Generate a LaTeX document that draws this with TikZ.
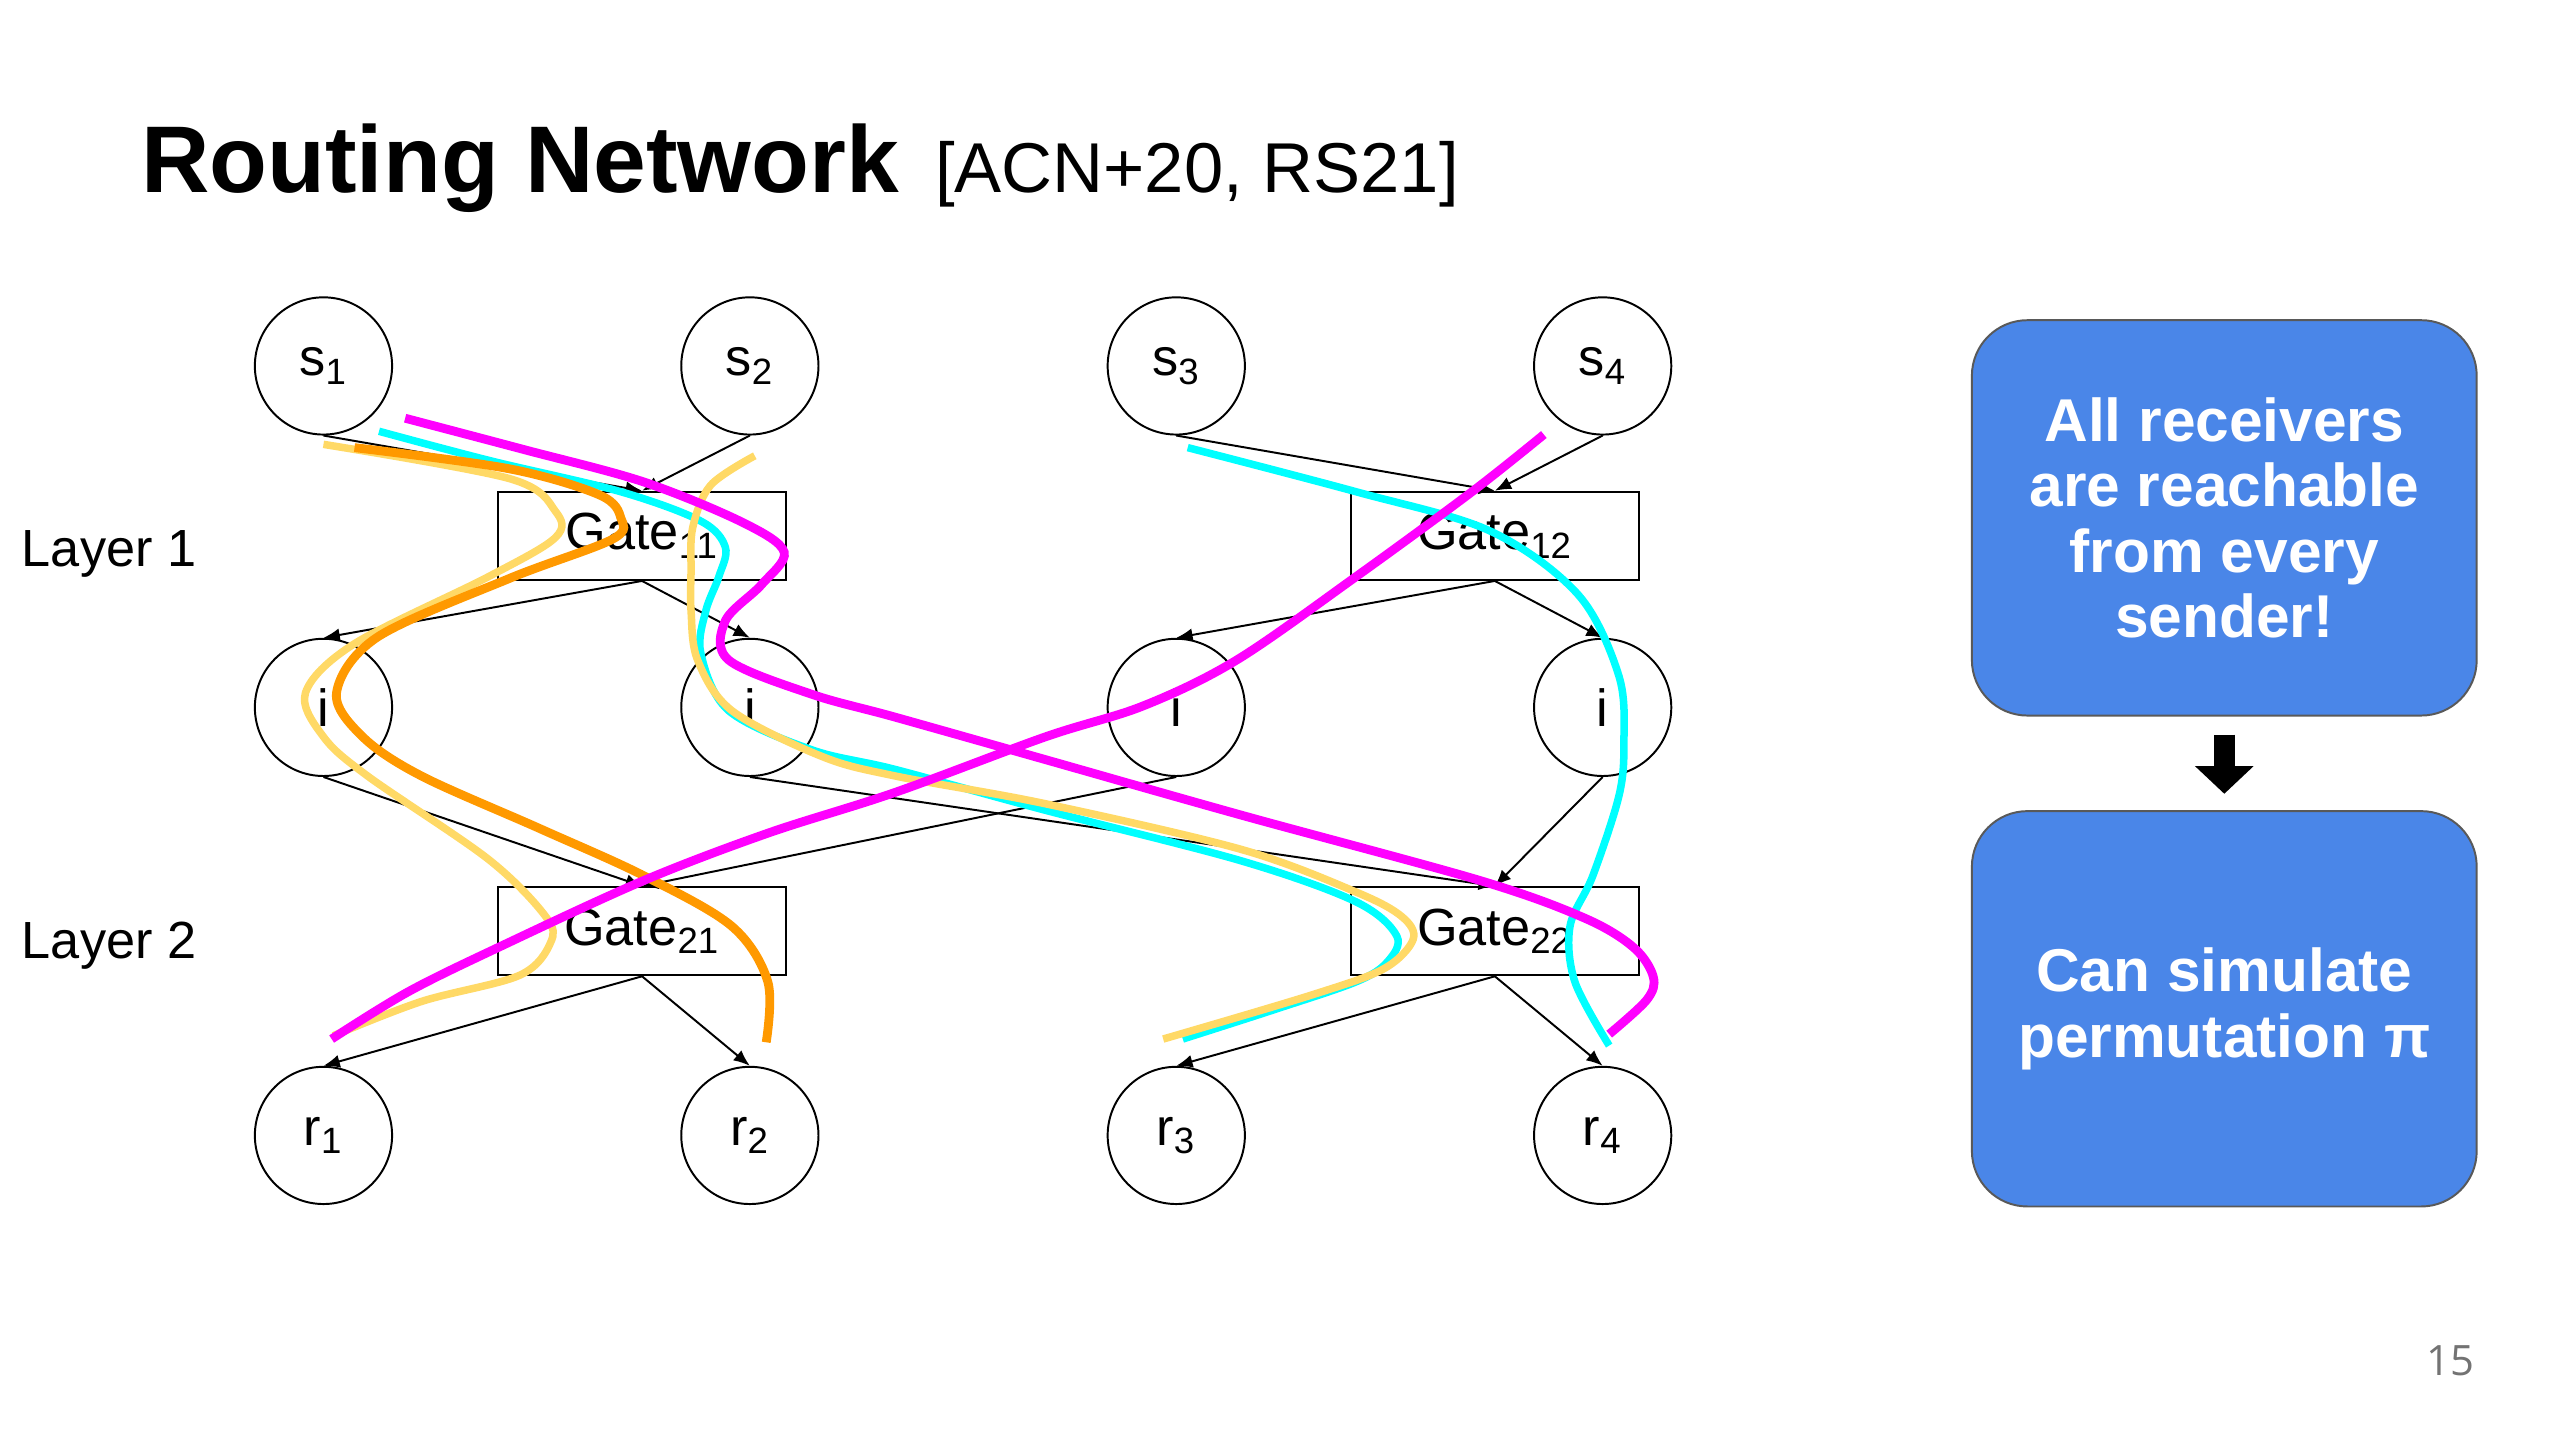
\documentclass[tikz,border=0pt]{standalone}
\usepackage{fontspec}
\setmainfont{Liberation Sans}
\newfontfamily\slidenumfont{Open Sans}
\usetikzlibrary{arrows.meta}

\definecolor{pathmag}{HTML}{FF00FF}
\definecolor{pathcyan}{HTML}{00FFFF}
\definecolor{pathorange}{HTML}{FF9900}
\definecolor{pathyellow}{HTML}{FFD966}
\definecolor{claimblue}{HTML}{4A86E8}

\tikzset{
  party/.style={draw, circle, line width=0.6pt, minimum size=42pt, inner sep=0pt,
    font=\fontsize{16}{19}\selectfont},
  gatebox/.style={draw, rectangle, line width=0.6pt, minimum width=88pt, minimum height=27pt,
    inner sep=0pt, font=\fontsize{16}{19}\selectfont},
  wire/.style={-{Latex[length=5pt,width=4pt]}, line width=0.6pt},
  route/.style={line width=2.3pt},
  claim/.style={draw=black!65, line width=0.6pt, fill=claimblue, rounded corners=17pt,
    minimum width=154.5pt, minimum height=121pt, align=center, text=white,
    font=\fontsize{18.5}{20}\selectfont\bfseries},
  blockarrow/.style={-{Triangle[length=8.5pt,width=17.5pt]}, line width=6.5pt,
    shorten <=5.5pt, shorten >=5pt}
}

\begin{document}
\begin{tikzpicture}[x=0.5pt,y=-0.5pt]
\useasboundingbox (0,0) rectangle (1567,881.4);

% heading
\node[anchor=base west, inner sep=0pt, font=\fontsize{29}{34}\selectfont\bfseries] (title) at (86,118) {Routing Network};
\node[anchor=base west, inner sep=0pt, font=\fontsize{21.6}{26}\selectfont] (cite) at (572,118) {[ACN+20, RS21]};
\node[anchor=base west, inner sep=0pt, font=\fontsize{16}{19}\selectfont] (lay1) at (13,347) {Layer 1};
\node[anchor=base west, inner sep=0pt, font=\fontsize{16}{19}\selectfont] (lay2) at (13,587) {Layer 2};

% senders, middle wires, receivers
\foreach \k/\x in {1/198,2/459,3/720,4/981} {
  \node[party] (s\k) at (\x,224) {s\textsubscript{\k}};
  \node[party] (m\k) at (\x,433) {i};
  \node[party] (r\k) at (\x,695) {r\textsubscript{\k}};
}
\node[gatebox] (g11) at (393,328) {Gate\textsubscript{11}};
\node[gatebox] (g12) at (915,328) {Gate\textsubscript{12}};
\node[gatebox] (g21) at (393,570) {Gate\textsubscript{21}};
\node[gatebox] (g22) at (915,570) {Gate\textsubscript{22}};

\foreach \a/\b in {s1/g11,s2/g11,s3/g12,s4/g12,g11/m1,g11/m2,g12/m3,g12/m4,
                   m1/g21,m3/g21,m2/g22,m4/g22,g21/r1,g21/r2,g22/r3,g22/r4}
  \draw[wire] (\a.south) -- (\b.north);

% routes
\draw[route, pathcyan] plot[smooth, tension=0.55] coordinates {(232,264) (300,282) (380,301) (429,319) (444,335) (440,353) (432,374) (429,400) (446,435) (497,459) (548,471) (640,496) (760,527) (830,552) (855,573) (849,589) (830,601) (780,618) (724,636)};
\draw[route, pathcyan] plot[smooth, tension=0.55] coordinates {(727,274) (830,301) (912,325) (966,364) (991,414) (994,455) (991,487) (975,536) (961,567) (964,601) (985,640)};
\draw[route, pathyellow] plot[smooth, tension=0.55] coordinates {(462,279) (435,297) (424,323) (423,350) (423,374) (427,404) (448,435) (503,463) (548,475) (640,492) (760,520) (830,546) (858,561) (865,575) (847,593) (803,609) (712,636)};
\draw[route, pathyellow] plot[smooth, tension=0.55] coordinates {(198,272) (312,293) (340,313) (340,329) (299,353) (217,394) (187,424) (198,451) (225,475) (299,526) (334,561) (337,577) (318,597) (258,613) (204,634)};
\draw[route, pathorange, line width=2.7pt] plot[smooth, tension=0.55] coordinates {(217,274) (312,287) (367,303) (380,317) (375,330) (312,354) (231,390) (206,424) (222,451) (258,475) (330,507) (394,536) (448,567) (470,601) (469,638)};
\draw[route, pathmag, line width=2.7pt] plot[smooth, tension=0.55] coordinates {(248,256) (320,275) (394,295) (455,320) (480,338) (466,358) (444,380) (446,404) (497,425) (548,439) (640,465) (760,499) (906,539) (970,562) (1000,580) (1012,598) (1008,612) (985,633)};
\draw[route, pathmag, line width=2.7pt] plot[smooth, tension=0.55] coordinates {(945,266) (901,301) (830,353) (757,404) (700,432) (640,451) (548,485) (470,510) (394,539) (307,579) (250,607) (203,636)};

% claims
\node[claim] (reach) at (1361.5,317) {All receivers\\are reachable\\from every\\sender!};
\node[claim] (perm) at (1361.5,617.5) {Can simulate\\permutation π};
\draw[blockarrow] (reach.south) -- (perm.north);

\node[anchor=base east, inner sep=0pt, text=black!55, font=\slidenumfont\fontsize{12.8}{15}\selectfont] (pagenum) at (1515,842) {15};
\end{tikzpicture}
\end{document}
